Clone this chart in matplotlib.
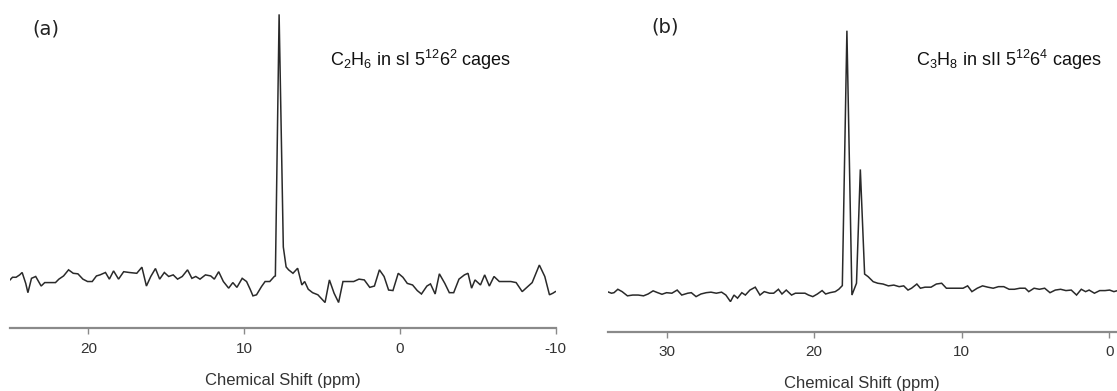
import matplotlib
matplotlib.use("Agg")
import matplotlib.pyplot as plt

plt.rcParams['font.family'] = ['Liberation Sans', 'DejaVu Sans']
plt.rcParams['mathtext.default'] = 'regular'

# ---- Panel (a): C2H6 in sI 5^12 6^2 cages ----
ppm_a = [25.03, 24.87, 24.64, 24.41, 24.25, 24.02, 23.88, 23.65, 23.38, 23.03,
         22.80, 22.46, 22.11, 21.89, 21.59, 21.27, 20.97, 20.67, 20.35, 20.05,
         19.75, 19.48, 19.25, 18.90, 18.65, 18.38, 18.06, 17.73, 17.37, 16.89,
         16.56, 16.27, 15.99, 15.69, 15.42, 15.12, 14.84, 14.55, 14.27, 13.97,
         13.63, 13.35, 13.10, 12.83, 12.48, 12.14, 11.91, 11.63, 11.33, 10.99,
         10.72, 10.46, 10.12, 9.84, 9.61, 9.43, 9.20, 8.88, 8.65, 8.35,
         8.06, 7.99, 7.75, 7.48, 7.30, 7.14, 6.86, 6.56, 6.29, 6.11,
         5.88, 5.60, 5.26, 4.80, 4.52, 4.22, 3.93, 3.65, 3.31, 2.96,
         2.62, 2.28, 1.93, 1.63, 1.31, 1.01, 0.72, 0.44, 0.10, -0.20,
         -0.48, -0.82, -1.12, -1.39, -1.74, -1.97, -2.27, -2.54, -2.89, -3.18,
         -3.46, -3.80, -4.15, -4.38, -4.61, -4.83, -5.18, -5.45, -5.75, -6.05,
         -6.39, -6.78, -7.13, -7.47, -7.86, -8.16, -8.50, -8.96, -9.31, -9.61,
         -9.83, -9.99]
int_a = [0.0, 1.0, 1.0, 1.9, 2.8, -1.3, -4.8, 0.6, 1.3, -2.3,
         -1.0, -1.0, -1.0, 0.3, 1.5, 3.8, 2.5, 2.3, 0.3, -0.6,
         -0.6, 1.5, 1.9, 2.8, 0.3, 3.4, 0.3, 3.1, 2.8, 2.5,
         4.8, -2.3, 1.3, 4.3, 0.3, 2.8, 1.3, 1.9, 0.3, 1.3,
         3.8, 0.6, 1.3, 0.3, 1.9, 1.5, 0.3, 3.1, -0.6, -3.1,
         -1.0, -2.8, 0.6, -0.6, -3.5, -6.0, -5.6, -2.5, -0.6, -0.6,
         1.3, 1.5, 100.0, 12.4, 4.9, 3.8, 2.5, 4.4, -1.9, -0.6,
         -3.5, -4.8, -5.6, -8.5, 0.0, -5.0, -8.5, -0.6, -0.6, -0.6,
         0.3, 0.0, -2.8, -2.3, 3.8, 1.3, -3.8, -4.0, 2.5, 1.0,
         -1.3, -1.9, -4.0, -5.3, -2.3, -1.5, -5.3, 2.3, -1.3, -4.8,
         -4.8, 0.3, 1.9, 2.5, -3.1, 0.0, -1.9, 1.9, -2.3, 1.3,
         -0.6, -0.6, -0.6, -1.0, -4.4, -2.8, -1.0, 5.6, 1.3, -5.6,
         -5.0, -4.4]

# ---- Panel (b): C3H8 in sII 5^12 6^4 cages ----
ppm_b = [34.02, 33.73, 33.56, 33.30, 33.01, 32.65, 32.29, 31.92, 31.56, 31.25,
         30.91, 30.60, 30.31, 30.00, 29.64, 29.28, 28.97, 28.56, 28.32, 28.00,
         27.67, 27.31, 26.99, 26.63, 26.27, 25.98, 25.67, 25.43, 25.19, 24.90,
         24.66, 24.35, 23.99, 23.67, 23.38, 23.02, 22.74, 22.42, 22.18, 21.89,
         21.53, 21.27, 20.93, 20.62, 20.38, 20.09, 19.78, 19.46, 19.22, 18.93,
         18.57, 18.33, 18.09, 17.78, 17.44, 17.13, 16.87, 16.58, 16.34, 16.00,
         15.69, 15.33, 14.97, 14.60, 14.24, 13.93, 13.64, 13.40, 13.04, 12.80,
         12.49, 12.08, 11.72, 11.36, 11.04, 10.64, 10.27, 9.91, 9.60, 9.31,
         8.95, 8.59, 8.23, 7.87, 7.51, 7.15, 6.79, 6.43, 6.06, 5.70,
         5.46, 5.10, 4.74, 4.38, 4.02, 3.66, 3.30, 2.94, 2.58, 2.22,
         1.90, 1.61, 1.37, 1.01, 0.65, 0.29, -0.02, -0.31, -0.50]
int_b = [0.5, -0.1, 0.1, 1.4, 0.5, -1.1, -0.8, -0.8, -1.1, -0.4,
         0.8, 0.1, -0.5, 0.1, -0.1, 1.1, -0.8, -0.1, 0.1, -1.4,
         -0.4, 0.1, 0.3, -0.1, 0.3, -0.8, -3.3, -0.8, -2.0, 0.1,
         -0.8, 1.1, 2.2, -0.8, 0.5, -0.1, -0.1, 1.4, -0.4, 1.1,
         -0.8, -0.1, -0.1, -0.1, -0.8, -1.4, -0.4, 0.9, -0.4, 0.1,
         0.5, 1.4, 2.8, 100.0, -0.8, 3.7, 47.1, 7.2, 6.2, 4.3,
         3.7, 3.4, 2.7, 3.0, 2.4, 2.7, 1.1, 1.8, 3.4, 1.8,
         2.2, 2.2, 3.4, 3.7, 1.8, 1.8, 1.8, 1.8, 2.7, 0.5,
         1.8, 2.7, 2.2, 1.8, 2.4, 2.4, 1.4, 1.4, 1.8, 1.8,
         0.5, 1.8, 1.4, 1.8, 0.1, 1.1, 1.4, 0.9, 1.1, -0.8,
         1.4, 0.5, 1.1, -0.1, 0.9, 0.9, 1.1, 0.5, 0.8]

ticks_a = [20, 10, 0, -10]
ticks_b = [30, 20, 10, 0]
panel_labels = ['(a)', '(b)']
annot_a = r'C$_2$H$_6$ in sI 5$^{12}$6$^2$ cages'
annot_b = r'C$_3$H$_8$ in sII 5$^{12}$6$^4$ cages'
xlabel = 'Chemical Shift (ppm)'

W, H = 1117, 391
fig = plt.figure(figsize=(W / 100, H / 100), dpi=100)

def px_axes(left, right, top, bottom):
    return fig.add_axes([left / W, 1 - bottom / H, (right - left) / W, (bottom - top) / H])

ax_a = px_axes(10, 556, 0, 328)
ax_b = px_axes(607.5, 1117, 0, 331.5)

spine_col = '#8a8a8a'
text_col = '#333333'

for ax, x, y, xl, yl, ticks in [
        (ax_a, ppm_a, int_a, (25.03, -10.03), (-18.1, 105.4), ticks_a),
        (ax_b, ppm_b, int_b, (34.0, -0.52), (-14.7, 111.7), ticks_b)]:
    ax.plot(x, y, color='#2a2a2a', lw=1.1, solid_joinstyle='miter')
    ax.set_xlim(*xl)
    ax.set_ylim(*yl)
    ax.set_xticks(ticks)
    ax.set_xticklabels([str(t) for t in ticks])
    ax.set_yticks([])
    for s in ['top', 'left', 'right']:
        ax.spines[s].set_visible(False)
    ax.spines['bottom'].set_color(spine_col)
    ax.spines['bottom'].set_linewidth(1.6)
    ax.tick_params(axis='x', direction='out', length=4, width=1.0, color=spine_col,
                   labelsize=11, labelcolor=text_col, pad=6)
    ax.set_xlabel(xlabel, fontsize=12, color=text_col, labelpad=12)
    ax.patch.set_visible(False)

fig.text(32 / W, 1 - 29 / H, panel_labels[0], fontsize=14, color='#222222',
         ha='left', va='center', family=['DejaVu Sans'])
fig.text(651 / W, 1 - 27 / H, panel_labels[1], fontsize=14, color='#222222',
         ha='left', va='center', family=['DejaVu Sans'])

fig.text(330 / W, 1 - 60 / H, annot_a, fontsize=13, color='#111111',
         ha='left', va='center')
fig.text(916 / W, 1 - 60 / H, annot_b, fontsize=13, color='#111111',
         ha='left', va='center')

fig.savefig('out.png', dpi=100)
